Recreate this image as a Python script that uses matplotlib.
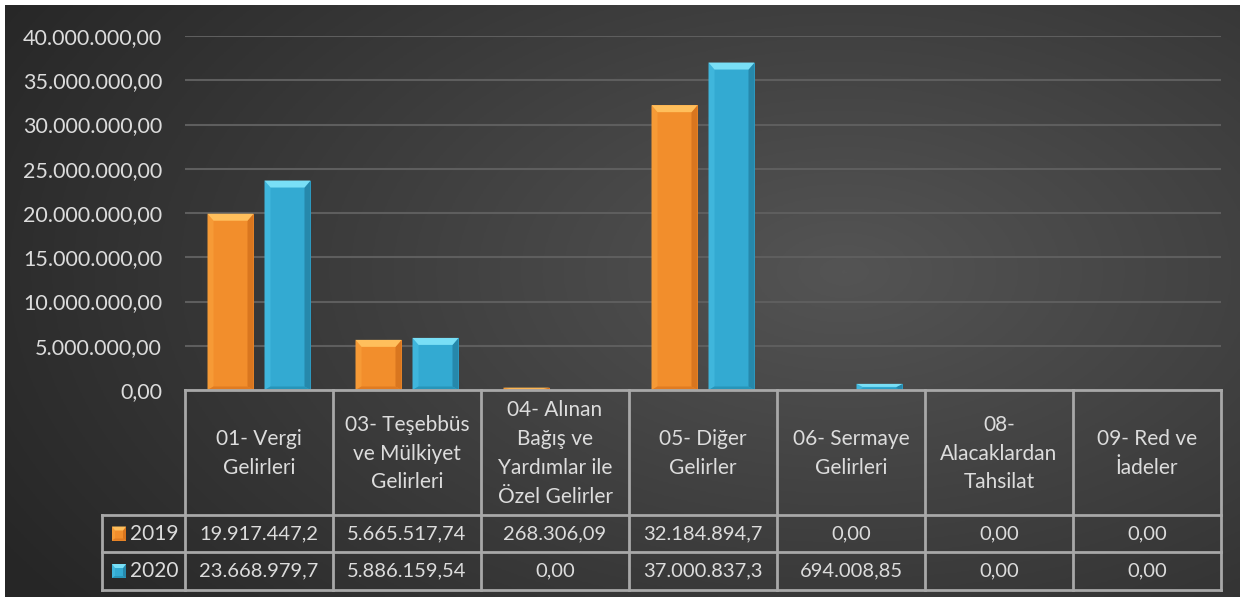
import numpy as np
import matplotlib
matplotlib.use("Agg")
import matplotlib.pyplot as plt
from matplotlib.patches import Polygon, Rectangle
from matplotlib.ticker import FuncFormatter

# veriler
categories = ["01- Vergi\nGelirleri", "03- Teşebbüs\nve Mülkiyet\nGelirleri",
              "04- Alınan\nBağış ve\nYardımlar ile\nÖzel Gelirler", "05- Diğer\nGelirler",
              "06- Sermaye\nGelirleri", "08-\nAlacaklardan\nTahsilat", "09- Red ve\nİadeler"]
series = ["2019", "2020"]
values_2019 = [19917447.2, 5665517.74, 268306.09, 32184894.7, 0.0, 0.0, 0.0]
values_2020 = [23668979.7, 5886159.54, 0.0, 37000837.3, 694008.85, 0.0, 0.0]
labels_2019 = ["19.917.447,2", "5.665.517,74", "268.306,09", "32.184.894,7", "0,00", "0,00", "0,00"]
labels_2020 = ["23.668.979,7", "5.886.159,54", "0,00", "37.000.837,3", "694.008,85", "0,00", "0,00"]
y_ticks = [0, 5e6, 10e6, 15e6, 20e6, 25e6, 30e6, 35e6, 40e6]

# base, top, bottom, left, right
colors = {"2019": ("#f28e2c", "#ffbf5c", "#e07b22", "#f69a36", "#d9761f"),
          "2020": ("#33aad2", "#79dff6", "#2795b9", "#3fb6dc", "#2688ab")}

plt.rcParams['font.family'] = ['Lato', 'DejaVu Sans']
TXT = "#dcdcdc"
LINE = "#a8a8a8"

W, H = 1245, 601
fig = plt.figure(figsize=(W / 100, H / 100), dpi=100, facecolor="white")

def fx(x):
    return x / W

def fy(y):
    return 1 - y / H

# arka plan (koyu gradyan)
bg = fig.add_axes([fx(5), fy(597), fx(1240) - fx(5), fy(5) - fy(597)])
gx, gy = np.meshgrid(np.linspace(0, 1, 400), np.linspace(0, 1, 200))
d = np.sqrt(((gx - 0.68) / 0.75) ** 2 + ((gy - 0.45) / 0.9) ** 2)
shade = np.clip(0.33 - 0.17 * d, 0.15, 0.33)
bg.imshow(np.dstack([shade] * 3), aspect="auto", extent=[0, 1, 0, 1])
bg.axis("off")

# ana eksen
x_left, x_right, y_top, y_zero = 185, 1221, 36, 390
ax = fig.add_axes([fx(x_left), fy(y_zero), fx(x_right) - fx(x_left), fy(y_top) - fy(y_zero)])
ax.set_facecolor("none")
ax.set_xlim(-0.5, len(categories) - 0.5)
ax.set_ylim(0, 40e6)
ax.set_yticks(y_ticks)
ax.yaxis.set_major_formatter(FuncFormatter(lambda v, p: f"{v:,.2f}".replace(",", "X").replace(".", ",").replace("X", ".")))
ax.tick_params(axis="y", length=0, pad=16.5, labelsize=15.5, labelcolor=TXT)
ax.set_xticks([])
for s in ax.spines.values():
    s.set_visible(False)
ax.grid(axis="y", color="#5e5e5e", linewidth=1.5)
ax.set_axisbelow(True)

cat_px = (x_right - x_left) / len(categories)
px_y = 40e6 / (y_zero - y_top)

def bevel_bar(axis, x0, x1, y0, y1, pal, bx, by, tr):
    base, top, bottom, left, right = pal
    h = y1 - y0
    by = by if abs(by) <= abs(h) / 2 else h / 2
    bx = min(bx, (x1 - x0) / 2)
    kw = dict(transform=tr, linewidth=0, clip_on=False, zorder=3)
    axis.add_patch(Rectangle((x0, y0), x1 - x0, h, facecolor=base, **kw))
    axis.add_patch(Polygon([(x0, y0), (x0, y1), (x0 + bx, y1 - by), (x0 + bx, y0 + by / 2)], facecolor=left, **kw))
    axis.add_patch(Polygon([(x1, y0), (x1, y1), (x1 - bx, y1 - by), (x1 - bx, y0 + by / 2)], facecolor=right, **kw))
    axis.add_patch(Polygon([(x0, y0), (x1, y0), (x1 - bx, y0 + by / 2), (x0 + bx, y0 + by / 2)], facecolor=bottom, **kw))
    axis.add_patch(Polygon([(x0, y1), (x1, y1), (x1 - bx, y1 - by), (x0 + bx, y1 - by)], facecolor=top, **kw))

bar_w = 46 / cat_px
offset = 28.5 / cat_px
for name, vals, sgn in [("2019", values_2019, -1), ("2020", values_2020, 1)]:
    for i, v in enumerate(vals):
        if v <= 0:
            continue
        c = i + sgn * offset
        bevel_bar(ax, c - bar_w / 2, c + bar_w / 2, 0, v, colors[name], 6 / cat_px, 7 * px_y, ax.transData)

# veri tablosu
lw = 2
ov = fig.add_axes([0, 0, 1, 1])
ov.set_xlim(0, W)
ov.set_ylim(H, 0)
ov.axis("off")
ov.set_facecolor("none")

col_x = [x_left + i * cat_px for i in range(len(categories) + 1)]
row_y = [390, 515, 552, 590]
leg_x = 102
ov.plot([x_left, x_right], [row_y[0], row_y[0]], color=LINE, lw=lw)
for yy in row_y[1:]:
    ov.plot([leg_x, x_right], [yy, yy], color=LINE, lw=lw)
for xx in col_x:
    ov.plot([xx, xx], [row_y[0], row_y[-1]], color=LINE, lw=lw)
ov.plot([leg_x, leg_x], [row_y[1], row_y[-1]], color=LINE, lw=lw)

for i, cat in enumerate(categories):
    cx = (col_x[i] + col_x[i + 1]) / 2
    ov.text(cx, (row_y[0] + row_y[1]) / 2 + 1, cat, ha="center", va="center",
            fontsize=15, color=TXT, linespacing=1.55)
    ov.text(cx, (row_y[1] + row_y[2]) / 2, labels_2019[i], ha="center", va="center", fontsize=14.5, color=TXT)
    ov.text(cx, (row_y[2] + row_y[3]) / 2, labels_2020[i], ha="center", va="center", fontsize=14.5, color=TXT)

for r, name in enumerate(series):
    yc = (row_y[r + 1] + row_y[r + 2]) / 2
    bevel_bar(ov, 112, 126, yc + 7, yc - 7, colors[name], 3, -4, ov.transData)
    ov.text(154, yc, name, ha="center", va="center", fontsize=15, color=TXT)

fig.savefig("out.png", dpi=100, facecolor="white")
